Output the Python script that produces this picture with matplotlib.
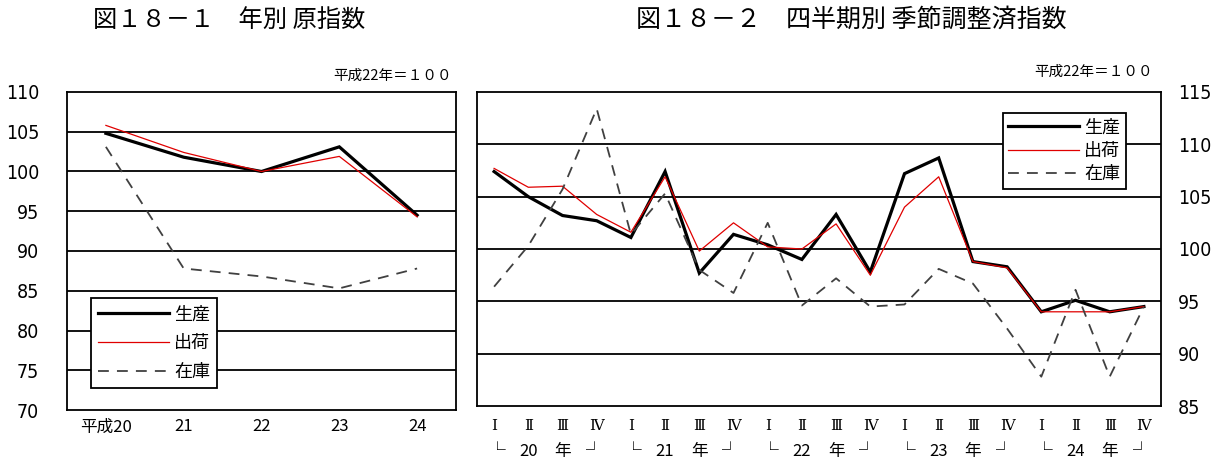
import matplotlib
matplotlib.use("Agg")
import matplotlib.pyplot as plt

plt.rcParams['font.family'] = ['Noto Sans CJK JP', 'DejaVu Sans']

# ---- data: annual (left) ----
years = ["平成20", "21", "22", "23", "24"]
annual_prod = [104.8, 101.8, 100.0, 103.1, 94.5]
annual_ship = [105.8, 102.4, 100.0, 101.9, 94.3]
annual_inv = [103.1, 87.8, 86.8, 85.3, 87.8]

# ---- data: quarterly (right) ----
quarters = ["Ⅰ", "Ⅱ", "Ⅲ", "Ⅳ"] * 5
year_groups = ["20", "21", "22", "23", "24"]
q_prod = [107.4, 105.0, 103.2, 102.7, 101.1, 107.4, 97.7, 101.4, 100.4, 99.0,
          103.3, 97.8, 107.2, 108.7, 98.8, 98.3, 94.0, 95.1, 94.0, 94.5]
q_ship = [107.7, 105.9, 106.0, 103.3, 101.6, 106.9, 99.8, 102.5, 100.2, 100.0,
          102.4, 97.5, 104.0, 106.9, 98.8, 98.2, 94.0, 94.0, 94.0, 94.5]
q_inv = [96.4, 100.3, 105.7, 113.4, 101.4, 105.3, 98.0, 95.8, 102.5, 94.6,
         97.2, 94.5, 94.7, 98.1, 96.7, 92.4, 87.8, 96.1, 87.8, 94.5]

labels = ["生産", "出荷", "在庫"]

W, H = 1217, 461
fig = plt.figure(figsize=(W / 100, H / 100), dpi=100)

def style(name):
    if name == "生産":
        return dict(color="black", lw=2.3, solid_joinstyle="miter")
    if name == "出荷":
        return dict(color="#e00000", lw=0.9)
    return dict(color="#404040", lw=1.3, linestyle=(0, (6, 4.5)))

tickfont = dict(family=['DejaVu Sans'], stretch='condensed')
romanfont = ['DejaVu Serif', 'Noto Sans CJK JP']

# ---------------- left chart ----------------
ax1 = fig.add_axes([67 / W, 1 - 410 / H, 389 / W, 318 / H])
x1 = list(range(len(years)))
for name, vals in zip(labels, [annual_prod, annual_ship, annual_inv]):
    ax1.plot(x1, vals, label=name, **style(name))
ax1.set_xlim(-0.5, len(years) - 0.5)
ax1.set_ylim(70, 110)
ax1.set_yticks(range(70, 111, 5))
ax1.set_yticklabels([str(v) for v in range(70, 111, 5)], fontsize=14, **tickfont)
ax1.set_xticks(x1)
ax1.set_xticklabels(years, fontsize=12)
ax1.tick_params(axis='y', length=0, pad=20)
ax1.tick_params(axis='x', length=0, pad=6)
for y in range(75, 110, 5):
    ax1.axhline(y, color="black", lw=1.3, zorder=0.5)
for s in ax1.spines.values():
    s.set_linewidth(1.3)
leg1 = ax1.legend(loc="upper left", bbox_to_anchor=(0.062, 0.352), fontsize=13,
                  frameon=True, fancybox=False, edgecolor="black", framealpha=1,
                  handlelength=3.9, handletextpad=0.3, labelspacing=0.6,
                  borderpad=0.4, borderaxespad=0)
leg1.get_frame().set_linewidth(1.3)

# ---------------- right chart ----------------
ax2 = fig.add_axes([477 / W, 1 - 406 / H, 684 / W, 314 / H])
x2 = list(range(len(quarters)))
for name, vals in zip(labels, [q_prod, q_ship, q_inv]):
    ax2.plot(x2, vals, label=name, **style(name))
ax2.set_xlim(-0.5, len(quarters) - 0.5)
ax2.set_ylim(85, 115)
ax2.yaxis.tick_right()
ax2.set_yticks(range(85, 116, 5))
ax2.set_yticklabels([str(v) for v in range(85, 116, 5)], fontsize=14, **tickfont)
ax2.set_xticks(x2)
ax2.set_xticklabels(quarters, fontsize=11, family=romanfont)
ax2.tick_params(axis='y', length=0, pad=12)
ax2.tick_params(axis='x', length=0, pad=9)
for y in range(90, 115, 5):
    ax2.axhline(y, color="black", lw=1.3, zorder=0.5)
for s in ax2.spines.values():
    s.set_linewidth(1.3)
for g, yr in enumerate(year_groups):
    parts = ["└", yr, "年", "┘"]
    for k, p in enumerate(parts):
        ax2.annotate(p, xy=(g * 4 + k, 0), xycoords=('data', 'axes fraction'),
                     xytext=(2 if k == 0 else (-2 if k == 3 else 0), -33),
                     textcoords='offset points', ha='center', va='center',
                     fontsize=12, family=['Noto Sans CJK JP', 'DejaVu Sans'])
leg2 = ax2.legend(loc="upper left", bbox_to_anchor=(0.769, 0.933), fontsize=13,
                  frameon=True, fancybox=False, edgecolor="black", framealpha=1,
                  handlelength=3.9, handletextpad=0.3, labelspacing=0.3,
                  borderpad=0.3, borderaxespad=0)
leg2.get_frame().set_linewidth(1.3)

# ---------------- titles / notes ----------------
fig.text(229 / W, 1 - 20 / H, "図１８－１　年別 原指数", ha="center", va="center", fontsize=17.5)
fig.text(851 / W, 1 - 20 / H, "図１８－２　四半期別 季節調整済指数", ha="center", va="center", fontsize=18)
fig.text(452 / W, 1 - 76 / H, "平成22年＝１００", ha="right", va="center", fontsize=10.5)
fig.text(1153 / W, 1 - 72 / H, "平成22年＝１００", ha="right", va="center", fontsize=10.5)

fig.savefig("out.png", dpi=100, facecolor="white")
